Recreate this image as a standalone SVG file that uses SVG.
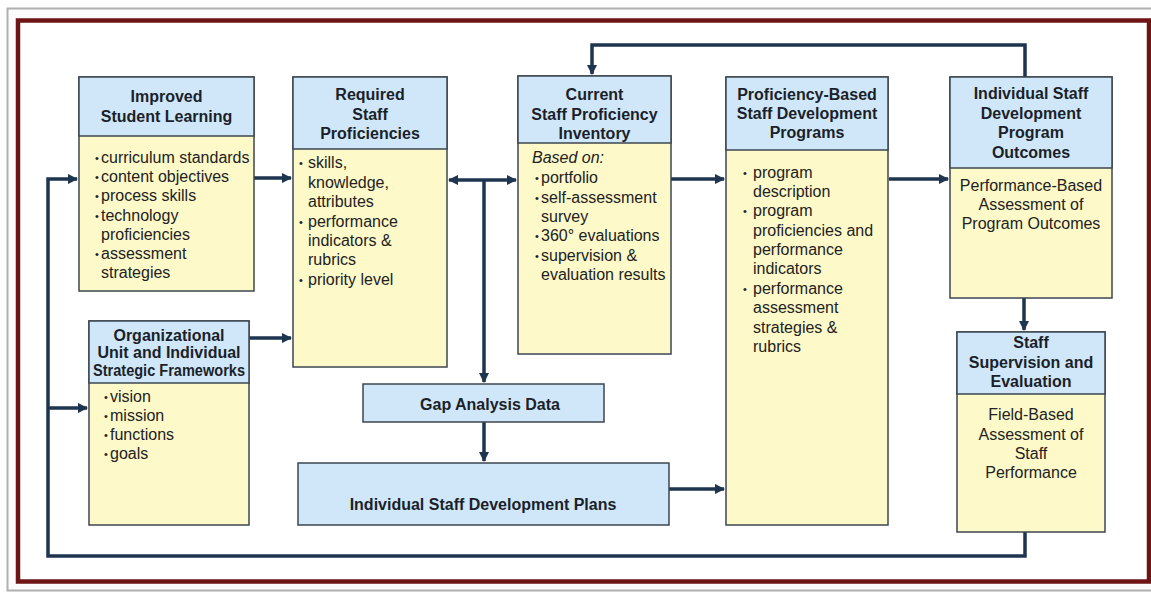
<svg xmlns="http://www.w3.org/2000/svg" width="1151" height="593" viewBox="0 0 1151 593">
<defs>
<marker id="arr" viewBox="0 0 10 10" refX="9" refY="5" markerWidth="3" markerHeight="3" orient="auto-start-reverse" markerUnits="strokeWidth">
<path d="M0,0 L10,5 L0,10 z" fill="#1e3550"/>
</marker>
<style>
.hd{fill:#cfe7f8;stroke:#3c4650;stroke-width:1.5}
.bd{fill:#fdf9c9;stroke:#3c4650;stroke-width:1.5}
.ht{font-family:"Liberation Sans",Arial,sans-serif;font-weight:bold;font-size:16px;fill:#1b1f2a;text-anchor:middle}
.bt{font-family:"Liberation Sans",Arial,sans-serif;font-size:16px;fill:#222}
.ct{font-family:"Liberation Sans",Arial,sans-serif;font-size:16px;fill:#222;text-anchor:middle}
.bl{font-size:11px}
.cn{fill:none;stroke:#1e3550;stroke-width:3.5}
.ca{fill:none;stroke:#1e3550;stroke-width:3.5;marker-end:url(#arr)}
</style>
</defs>
<rect x="0" y="0" width="1151" height="593" fill="#ffffff"/>
<rect x="7.5" y="8.5" width="1150" height="582" fill="#fbfbfb" stroke="#b0b0b0" stroke-width="2"/>
<rect x="18" y="20.5" width="1131" height="561" fill="#ffffff" stroke="#6e1414" stroke-width="4.5"/>

<g id="connectors">
<path class="ca" d="M1025,532 V556 H48 V179 H77"/>
<path class="ca" d="M48,408 H87"/>
<path class="ca" d="M254,178 H291"/>
<path class="ca" d="M249,338 H291"/>
<path class="cn" d="M449,180 H516" marker-start="url(#arr)" marker-end="url(#arr)"/>
<path class="ca" d="M484,180 V382"/>
<path class="ca" d="M484,422 V461"/>
<path class="ca" d="M669,489 H724"/>
<path class="ca" d="M671,179 H724"/>
<path class="ca" d="M889,179 H948"/>
<path class="ca" d="M1024,298 V330"/>
<path class="ca" d="M1025,77 V45 H592 V74"/>
</g>

<g id="improved-student-learning">
<rect class="bd" x="79" y="77" width="175" height="214"/>
<rect class="hd" x="79" y="77" width="175" height="59"/>
<text class="ht" x="166.5" y="102">Improved</text>
<text class="ht" x="166.5" y="122">Student Learning</text>
<text class="bt"><tspan class="bl" x="95" y="162">•</tspan><tspan x="101" y="163">curriculum standards</tspan></text>
<text class="bt"><tspan class="bl" x="95" y="181">•</tspan><tspan x="101" y="182">content objectives</tspan></text>
<text class="bt"><tspan class="bl" x="95" y="200">•</tspan><tspan x="101" y="201">process skills</tspan></text>
<text class="bt"><tspan class="bl" x="95" y="220">•</tspan><tspan x="101" y="221">technology</tspan></text>
<text class="bt" x="101" y="240">proficiencies</text>
<text class="bt"><tspan class="bl" x="95" y="258">•</tspan><tspan x="101" y="259">assessment</tspan></text>
<text class="bt" x="101" y="278">strategies</text>
</g>

<g id="required-staff-proficiencies">
<rect class="bd" x="293" y="77" width="154" height="290"/>
<rect class="hd" x="293" y="77" width="154" height="72"/>
<text class="ht" x="370" y="100">Required</text>
<text class="ht" x="370" y="120">Staff</text>
<text class="ht" x="370" y="139">Proficiencies</text>
<text class="bt"><tspan class="bl" x="299" y="167">•</tspan><tspan x="308" y="168">skills,</tspan></text>
<text class="bt" x="308" y="188">knowledge,</text>
<text class="bt" x="308" y="207">attributes</text>
<text class="bt"><tspan class="bl" x="299" y="226">•</tspan><tspan x="308" y="227">performance</tspan></text>
<text class="bt" x="308" y="246">indicators &amp;</text>
<text class="bt" x="308" y="265">rubrics</text>
<text class="bt"><tspan class="bl" x="299" y="284">•</tspan><tspan x="308" y="285">priority level</tspan></text>
</g>

<g id="current-staff-proficiency-inventory">
<rect class="bd" x="518" y="76" width="153" height="278"/>
<rect class="hd" x="518" y="76" width="153" height="67"/>
<text class="ht" x="594.5" y="100">Current</text>
<text class="ht" x="594.5" y="120">Staff Proficiency</text>
<text class="ht" x="594.5" y="139">Inventory</text>
<text class="bt" x="532" y="163" font-style="italic">Based on:</text>
<text class="bt"><tspan class="bl" x="535" y="182">•</tspan><tspan x="541" y="183">portfolio</tspan></text>
<text class="bt"><tspan class="bl" x="535" y="202">•</tspan><tspan x="541" y="203">self-assessment</tspan></text>
<text class="bt" x="541" y="222">survey</text>
<text class="bt"><tspan class="bl" x="535" y="240">•</tspan><tspan x="541" y="241">360° evaluations</tspan></text>
<text class="bt"><tspan class="bl" x="535" y="260">•</tspan><tspan x="541" y="261">supervision &amp;</tspan></text>
<text class="bt" x="541" y="280">evaluation results</text>
</g>

<g id="proficiency-based-programs">
<rect class="bd" x="726" y="77" width="162" height="448"/>
<rect class="hd" x="726" y="77" width="162" height="73"/>
<text class="ht" x="807" y="100">Proficiency-Based</text>
<text class="ht" x="807" y="119">Staff Development</text>
<text class="ht" x="807" y="138">Programs</text>
<text class="bt"><tspan class="bl" x="743" y="177">•</tspan><tspan x="753" y="178">program</tspan></text>
<text class="bt" x="753" y="197">description</text>
<text class="bt"><tspan class="bl" x="743" y="215">•</tspan><tspan x="753" y="216">program</tspan></text>
<text class="bt" x="753" y="236">proficiencies and</text>
<text class="bt" x="753" y="255">performance</text>
<text class="bt" x="753" y="274">indicators</text>
<text class="bt"><tspan class="bl" x="743" y="293">•</tspan><tspan x="753" y="294">performance</tspan></text>
<text class="bt" x="753" y="313">assessment</text>
<text class="bt" x="753" y="333">strategies &amp;</text>
<text class="bt" x="753" y="352">rubrics</text>
</g>

<g id="program-outcomes">
<rect class="bd" x="950" y="77" width="162" height="221"/>
<rect class="hd" x="950" y="77" width="162" height="91"/>
<text class="ht" x="1031" y="99">Individual Staff</text>
<text class="ht" x="1031" y="119">Development</text>
<text class="ht" x="1031" y="138">Program</text>
<text class="ht" x="1031" y="158">Outcomes</text>
<text class="ct" x="1031" y="191">Performance-Based</text>
<text class="ct" x="1031" y="210">Assessment of</text>
<text class="ct" x="1031" y="229">Program Outcomes</text>
</g>

<g id="staff-supervision-evaluation">
<rect class="bd" x="957" y="332" width="148" height="200"/>
<rect class="hd" x="957" y="332" width="148" height="62"/>
<text class="ht" x="1031" y="348">Staff</text>
<text class="ht" x="1031" y="368">Supervision and</text>
<text class="ht" x="1031" y="387">Evaluation</text>
<text class="ct" x="1031" y="420">Field-Based</text>
<text class="ct" x="1031" y="440">Assessment of</text>
<text class="ct" x="1031" y="459">Staff</text>
<text class="ct" x="1031" y="478">Performance</text>
</g>

<g id="organizational-frameworks">
<rect class="bd" x="89" y="321" width="160" height="204"/>
<rect class="hd" x="89" y="321" width="160" height="62"/>
<text class="ht" x="169" y="341" font-size="14.5">Organizational</text>
<text class="ht" x="169" y="358" font-size="14.5">Unit and Individual</text>
<text class="ht" x="169" y="376" font-size="14.5" textLength="152" lengthAdjust="spacingAndGlyphs">Strategic Frameworks</text>
<text class="bt"><tspan class="bl" x="104" y="401">•</tspan><tspan x="110" y="402">vision</tspan></text>
<text class="bt"><tspan class="bl" x="104" y="420">•</tspan><tspan x="110" y="421">mission</tspan></text>
<text class="bt"><tspan class="bl" x="104" y="439">•</tspan><tspan x="110" y="440">functions</tspan></text>
<text class="bt"><tspan class="bl" x="104" y="458">•</tspan><tspan x="110" y="459">goals</tspan></text>
</g>

<g id="gap-analysis-data">
<rect class="hd" x="363" y="384" width="241" height="38"/>
<text class="ht" x="490" y="410">Gap Analysis Data</text>
</g>

<g id="individual-plans">
<rect class="hd" x="298" y="463" width="371" height="62"/>
<text class="ht" x="483" y="510">Individual Staff Development Plans</text>
</g>
</svg>
